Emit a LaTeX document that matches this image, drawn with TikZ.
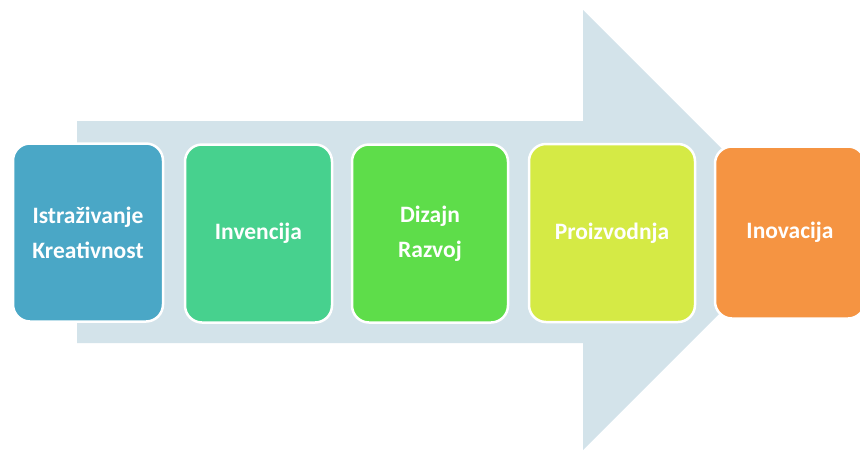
\documentclass[tikz,border=0pt]{standalone}
\usepackage{fontspec}
\setmainfont{Carlito}
\begin{document}
\begin{tikzpicture}[x=1pt,y=-1pt,
  stage/.style={draw=white, line width=2.5pt, rounded corners=17pt, minimum width=149pt, minimum height=178pt, text=white, font=\bfseries\fontsize{23.5}{35}\selectfont, align=center, inner sep=0pt}]
\definecolor{arrowc}{HTML}{D3E3EA}
\definecolor{c1}{HTML}{4AA7C6}
\definecolor{c2}{HTML}{47D18E}
\definecolor{c3}{HTML}{5EDD4A}
\definecolor{c4}{HTML}{D5EA45}
\definecolor{c5}{HTML}{F59442}
\useasboundingbox (0,0) rectangle (860,451);
\fill[arrowc] (77,121) -- (583,121) -- (583,10) -- (803,230) -- (583,450) -- (583,343) -- (77,343) -- cycle;
\node[stage, fill=c1, minimum width=150pt] (n1) at (88,232.5) {Istraživanje\\Kreativnost};
\node[stage, fill=c2, minimum width=147pt] (n2) at (258.5,233.5) {Invencija};
\node[stage, fill=c3, minimum width=156pt] (n3) at (430,233.5) {Dizajn\\Razvoj};
\node[stage, fill=c4, minimum width=166pt] (n4) at (612,233) {Proizvodnja};
\node[stage, fill=c5, minimum width=150pt, minimum height=172pt] (n5) at (790,232.5) {Inovacija};
\end{tikzpicture}
\end{document}
